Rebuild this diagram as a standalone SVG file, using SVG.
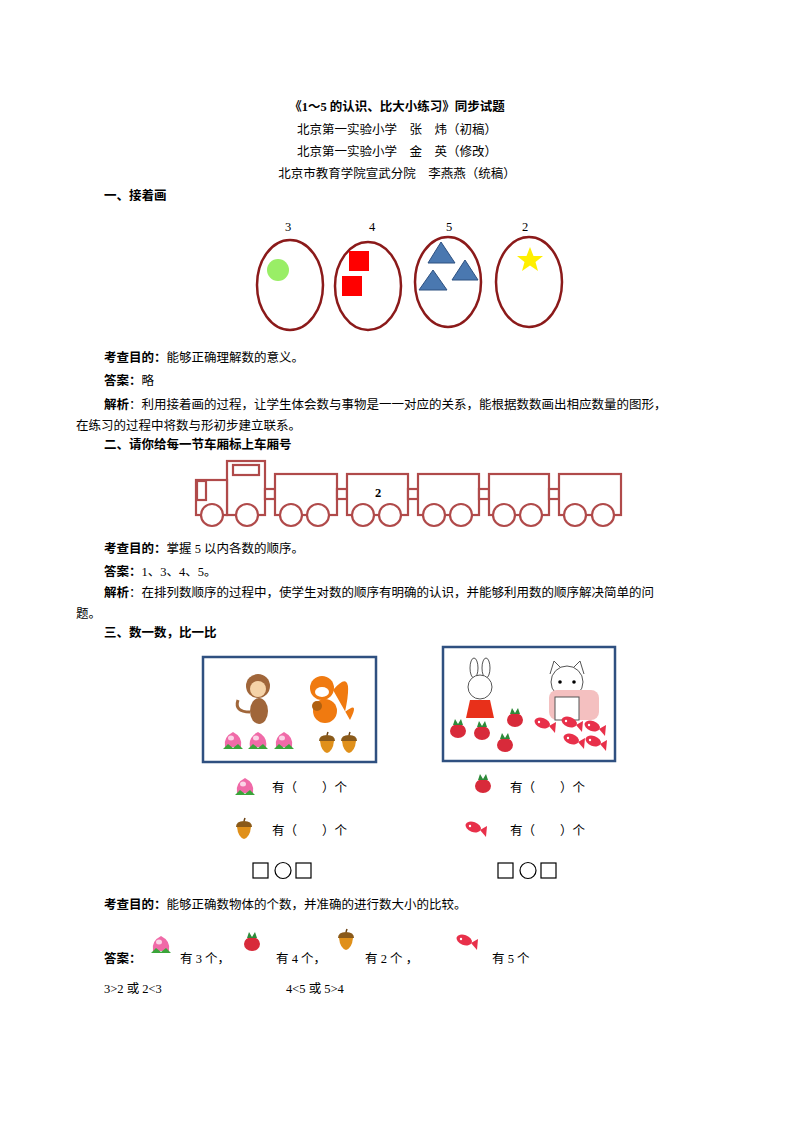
<svg xmlns="http://www.w3.org/2000/svg" width="794" height="1123" viewBox="0 0 794 1123">
<style>
text{font-family:"Liberation Serif","Noto Sans CJK SC",serif;font-size:12.5px;fill:#000}
.b{font-weight:bold}
.c{text-anchor:middle}
.ov{fill:none;stroke:#8b1a1a;stroke-width:2.5}
.tr{fill:#fff;stroke:#b04a4a;stroke-width:2.2}
.bx{fill:#fff;stroke:#2f5080;stroke-width:2.5}
.tri{fill:#4a78b0;stroke:#2d5080;stroke-width:1}
</style>
<defs>
<g id="peach"><path d="M-8 6 Q-10 -4 0 -9 Q10 -4 8 6 Z" fill="#f06aa8"/><ellipse cx="-2" cy="-3" rx="3" ry="2.5" fill="#fbd3e6"/><path d="M-10 8 L-5 3 L0 7 L5 3 L10 8 Z" fill="#3aa53a"/></g>
<g id="acorn"><path d="M-8 -2 Q-8 -8 0 -8 Q8 -8 8 -2 Z" fill="#8a5a1a"/><path d="M-7 -2 L7 -2 Q6 8 0 10 Q-6 8 -7 -2 Z" fill="#e0901a"/><line x1="0" y1="-8" x2="1" y2="-11" stroke="#6a4010" stroke-width="1.5"/></g>
<g id="radish"><ellipse cx="0" cy="2" rx="8" ry="7" fill="#d82a3a"/><path d="M-5 -4 L-3 -10 L0 -5 L3 -10 L5 -4 Z" fill="#2e8a3a"/></g>
<g id="fish"><ellipse cx="-3" cy="0" rx="8" ry="5" fill="#e8304a" transform="rotate(20)"/><path d="M4 2 L11 -2 L10 9 Z" fill="#e8304a"/><circle cx="-6" cy="-2" r="1.2" fill="#fff"/></g>
</defs>

<g id="header">
<text class="b c" x="397" y="111" font-size="14">《1～5 的认识、比大小练习》同步试题</text>
<text class="c" x="397" y="134">北京第一实验小学　张　炜（初稿）</text>
<text class="c" x="397" y="156">北京第一实验小学　金　英（修改）</text>
<text class="c" x="397" y="178">北京市教育学院宣武分院　李燕燕（统稿）</text>
<text class="b" x="104" y="200">一、接着画</text>
</g>

<g id="ovals">
<text class="c" x="288" y="231">3</text><text class="c" x="372" y="231">4</text><text class="c" x="449" y="231">5</text><text class="c" x="525" y="231">2</text>
<ellipse class="ov" cx="290" cy="285" rx="33" ry="45"/>
<ellipse class="ov" cx="368" cy="286" rx="33" ry="44"/>
<ellipse class="ov" cx="448" cy="282" rx="33" ry="45"/>
<ellipse class="ov" cx="529" cy="282" rx="33" ry="45"/>
<circle cx="278" cy="270" r="11" fill="#99ee66"/>
<rect x="349" y="251" width="20" height="20" fill="#f00"/>
<rect x="342" y="276" width="20" height="20" fill="#f00"/>
<polygon class="tri" points="428,263 441,242 455,263"/>
<polygon class="tri" points="452,280 465,260 478,280"/>
<polygon class="tri" points="419,290 433,270 447,290"/>
<polygon points="530,247 533.5,256 543,256 535.5,262 538,271 530,265.5 522,271 524.5,262 517,256 526.5,256" fill="#ffef00"/>
</g>

<g id="text1">
<text x="104" y="362"><tspan class="b">考查目的：</tspan>能够正确理解数的意义。</text>
<text x="104" y="385"><tspan class="b">答案：</tspan>略</text>
<text x="104" y="409"><tspan class="b">解析</tspan>：利用接着画的过程，让学生体会数与事物是一一对应的关系，能根据数数画出相应数量的图形，</text>
<text x="76" y="430">在练习的过程中将数与形初步建立联系。</text>
<text class="b" x="104" y="449">二、请你给每一节车厢标上车厢号</text>
</g>

<g id="train">
<rect class="tr" x="227" y="461" width="38" height="54"/>
<rect class="tr" x="196" y="480" width="31" height="35"/>
<rect class="tr" x="197" y="481" width="9" height="19"/>
<rect class="tr" x="233" y="465" width="26" height="10"/>
<rect class="tr" x="265" y="489" width="10" height="10"/>
<rect class="tr" x="275" y="474" width="62" height="41"/>
<rect class="tr" x="337" y="489" width="10" height="10"/>
<rect class="tr" x="347" y="474" width="61" height="41"/>
<rect class="tr" x="408" y="489" width="10" height="10"/>
<rect class="tr" x="418" y="474" width="61" height="41"/>
<rect class="tr" x="479" y="489" width="10" height="10"/>
<rect class="tr" x="489" y="474" width="60" height="41"/>
<rect class="tr" x="549" y="489" width="10" height="10"/>
<rect class="tr" x="559" y="474" width="62" height="41"/>
<g class="tr">
<circle cx="212" cy="515" r="11"/><circle cx="247" cy="515" r="11"/>
<circle cx="291" cy="515" r="11"/><circle cx="318" cy="515" r="11"/>
<circle cx="363" cy="515" r="11"/><circle cx="390" cy="515" r="11"/>
<circle cx="434" cy="515" r="11"/><circle cx="461" cy="515" r="11"/>
<circle cx="504" cy="515" r="11"/><circle cx="531" cy="515" r="11"/>
<circle cx="575" cy="515" r="11"/><circle cx="603" cy="515" r="11"/>
</g>
<text class="b c" x="378" y="497" font-size="14">2</text>
</g>

<g id="text2">
<text x="104" y="553"><tspan class="b">考查目的：</tspan>掌握 5 以内各数的顺序。</text>
<text x="104" y="576"><tspan class="b">答案：</tspan>1、3、4、5。</text>
<text x="104" y="597"><tspan class="b">解析</tspan>：在排列数顺序的过程中，使学生对数的顺序有明确的认识，并能够利用数的顺序解决简单的问</text>
<text x="76" y="618">题。</text>
<text class="b" x="104" y="637">三、数一数，比一比</text>
</g>

<g id="box1">
<rect class="bx" x="203" y="657" width="173" height="105"/>
<circle cx="258" cy="686" r="12" fill="#a0663a"/><circle cx="258" cy="689" r="8" fill="#f5d3a8"/>
<ellipse cx="259" cy="711" rx="9" ry="13" fill="#a0663a"/>
<path d="M250 712 Q234 712 238 700" fill="none" stroke="#a0663a" stroke-width="3"/>
<path d="M333 690 Q355 665 345 712 Q360 700 350 720" fill="#f07a10"/>
<circle cx="322" cy="688" r="12" fill="#f07a10"/><ellipse cx="322" cy="692" rx="7" ry="5" fill="#fff"/>
<ellipse cx="325" cy="711" rx="12" ry="12" fill="#f07a10"/><ellipse cx="317" cy="706" rx="5" ry="5" fill="#b06010"/>
<use href="#peach" x="233" y="741"/><use href="#peach" x="258" y="741"/><use href="#peach" x="284" y="741"/>
<use href="#acorn" x="327" y="743"/><use href="#acorn" x="349" y="743"/>
</g>

<g id="box2">
<rect class="bx" x="443" y="647" width="172" height="114"/>
<ellipse cx="474" cy="668" rx="4" ry="10" fill="#fff" stroke="#555"/><ellipse cx="486" cy="668" rx="4" ry="10" fill="#fff" stroke="#555"/>
<circle cx="480" cy="687" r="12" fill="#fff" stroke="#555"/>
<path d="M470 700 L490 700 L494 718 L466 718 Z" fill="#e8301a"/>
<path d="M550 674 L554 661 L561 668 L573 668 L580 661 L584 674" fill="#fff" stroke="#555"/>
<circle cx="567" cy="682" r="16" fill="#fff" stroke="#555"/>
<circle cx="560" cy="682" r="1.8" fill="#000"/><circle cx="574" cy="682" r="1.8" fill="#000"/>
<rect x="549" y="690" width="50" height="30" rx="8" fill="#f4c0c0"/>
<rect x="555" y="697" width="24" height="23" fill="#fff" stroke="#555"/>
<use href="#radish" x="458" y="729"/><use href="#radish" x="482" y="731"/><use href="#radish" x="505" y="743"/><use href="#radish" x="515" y="718"/>
<use href="#fish" x="545" y="724"/><use href="#fish" x="572" y="723"/><use href="#fish" x="595" y="727"/><use href="#fish" x="574" y="740"/><use href="#fish" x="596" y="742"/>
</g>

<g id="questions">
<use href="#peach" x="245" y="787"/>
<text x="272" y="792">有（　　）个</text>
<use href="#acorn" x="244" y="829"/>
<text x="272" y="835">有（　　）个</text>
<use href="#radish" x="483" y="784"/>
<text x="510" y="792">有（　　）个</text>
<use href="#fish" x="476" y="828"/>
<text x="510" y="835">有（　　）个</text>
<g fill="none" stroke="#000" stroke-width="1.2">
<rect x="253" y="863" width="15" height="15"/><circle cx="283" cy="870.5" r="8"/><rect x="296" y="863" width="15" height="15"/>
<rect x="498" y="863" width="15" height="15"/><circle cx="528" cy="870.5" r="8"/><rect x="541" y="863" width="15" height="15"/>
</g>
</g>

<g id="text3">
<text x="104" y="909"><tspan class="b">考查目的：</tspan>能够正确数物体的个数，并准确的进行数大小的比较。</text>
<text x="104" y="963"><tspan class="b">答案：</tspan></text>
<use href="#peach" x="161" y="945"/>
<text x="180" y="963">有 3 个，</text>
<use href="#radish" x="252" y="942"/>
<text x="276" y="963">有 4 个，</text>
<use href="#acorn" x="346" y="940"/>
<text x="365" y="963">有 2 个 ，</text>
<use href="#fish" x="467" y="941"/>
<text x="492" y="963">有 5 个</text>
<text x="104" y="993">3&gt;2 或 2&lt;3</text>
<text x="286" y="993">4&lt;5 或 5&gt;4</text>
</g>
</svg>
